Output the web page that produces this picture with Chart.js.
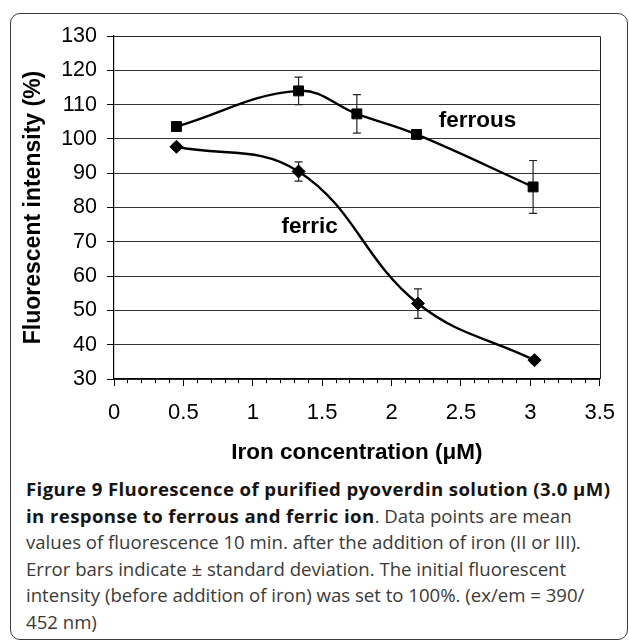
<!DOCTYPE html>
<html>
<head>
<meta charset="utf-8">
<script src="https://cdn.jsdelivr.net/npm/chart.js@4.4.0/dist/chart.umd.min.js"></script>
<style>
  html, body { margin: 0; padding: 0; background: #fff; }
  body { width: 629px; height: 640px; position: relative; overflow: hidden; }
  #frame { position: absolute; left: 10px; top: 13px; width: 618px; height: 627px; border: 1.5px solid #3c3c3c; border-radius: 10px; box-sizing: border-box; }
  #chartBox { position: absolute; left: 0; top: 0; width: 629px; height: 470px; }
  #caption { position: absolute; left: 26px; top: 476px; font-family: "Open Sans", sans-serif; font-size: 18.6px; line-height: 26.6px; color: #3a3a3a; white-space: nowrap; }
  #caption b { color: #151515; letter-spacing: 0.4px; }
</style>
</head>
<body>
<div id="frame"></div>
<div id="chartBox"><canvas id="chart" width="629" height="470"></canvas></div>
<div id="caption">
<b>Figure 9 Fluorescence of purified pyoverdin solution (3.0 μM)</b><br>
<b>in response to ferrous and ferric ion</b>. Data points are mean<br>
values of fluorescence 10 min. after the addition of iron (II or III).<br>
Error bars indicate ± standard deviation. The initial fluorescent<br>
intensity (before addition of iron) was set to 100%. (ex/em = 390/<br>
452 nm)
</div>
<script>
// Data
const ferrousConc = [0.45, 1.33, 1.75, 2.18, 3.02];
const ferrousMean = [103.6, 114.0, 107.3, 101.3, 86.0];
const ferrousSD = [1.3, 4.0, 5.6, 0.6, 7.7];

const ferricConc = [0.45, 1.33, 2.19, 3.03];
const ferricMean = [97.7, 90.5, 52.0, 35.5];
const ferricSD = [0.8, 2.8, 4.3, 0.8];

const xMin = 0, xMax = 3.5, xMinorStep = 0.1, xLabelStep = 0.5;
const yMin = 30, yMax = 130, yStep = 10;

const seriesNames = ["ferrous", "ferric"];

const FONT = "'Liberation Sans', Arial, sans-serif";

function toPoints(xs, ys) {
    return xs.map((x, i) => ({ x: x, y: ys[i] }));
}

function isLabelTick(v) {
    const r = v / xLabelStep;
    return Math.abs(r - Math.round(r)) < 1e-6;
}

// error bars drawn with the chart's own scales
const errorBars = {
    id: 'errorBars',
    beforeDatasetsDraw(chart) {
        const ctx = chart.ctx;
        const xs = chart.scales.x, ys = chart.scales.y;
        const sds = [ferrousSD, ferricSD];
        ctx.save();
        ctx.strokeStyle = '#222';
        ctx.lineWidth = 1.2;
        chart.data.datasets.forEach((ds, di) => {
            ds.data.forEach((p, i) => {
                const sd = sds[di][i];
                const px = xs.getPixelForValue(p.x);
                const top = ys.getPixelForValue(p.y + sd);
                const bot = ys.getPixelForValue(p.y - sd);
                ctx.beginPath();
                ctx.moveTo(px, top); ctx.lineTo(px, bot);
                ctx.moveTo(px - 4, top); ctx.lineTo(px + 4, top);
                ctx.moveTo(px - 4, bot); ctx.lineTo(px + 4, bot);
                ctx.stroke();
            });
        });
        ctx.restore();
    }
};

// right and top edges of the plot box, plus the series labels
const plotExtras = {
    id: 'plotExtras',
    afterDraw(chart, args, opts) {
        const ctx = chart.ctx;
        const a = chart.chartArea;
        ctx.save();
        ctx.strokeStyle = '#222';
        ctx.lineWidth = 1;
        ctx.beginPath();
        ctx.moveTo(a.left, Math.round(a.top) + 0.5);
        ctx.lineTo(Math.round(a.right) + 0.5, Math.round(a.top) + 0.5);
        ctx.lineTo(Math.round(a.right) + 0.5, a.bottom);
        ctx.stroke();

        ctx.fillStyle = '#000';
        ctx.font = 'bold 22.5px ' + FONT;
        ctx.textAlign = 'center';
        ctx.textBaseline = 'middle';
        opts.labels.forEach(l => {
            ctx.fillText(l.text, chart.scales.x.getPixelForValue(l.x), chart.scales.y.getPixelForValue(l.y));
        });
        ctx.restore();
    }
};

new Chart(document.getElementById('chart'), {
    type: 'line',
    data: {
        datasets: [
            {
                label: seriesNames[0],
                data: toPoints(ferrousConc, ferrousMean),
                borderColor: '#000',
                borderWidth: 2.4,
                backgroundColor: '#000',
                pointStyle: 'rect',
                pointRadius: 7,
                pointBackgroundColor: '#000',
                pointBorderColor: '#000',
                pointBorderWidth: 1,
                tension: 0.4
            },
            {
                label: seriesNames[1],
                data: toPoints(ferricConc, ferricMean),
                borderColor: '#000',
                borderWidth: 2.4,
                backgroundColor: '#000',
                pointStyle: 'rectRot',
                pointRadius: 6.5,
                pointBackgroundColor: '#000',
                pointBorderColor: '#000',
                pointBorderWidth: 1,
                tension: 0.4
            }
        ]
    },
    options: {
        responsive: false,
        animation: false,
        layout: { padding: { top: 36, right: 23, left: 0, bottom: 0 } },
        plugins: {
            legend: { display: false },
            tooltip: { enabled: false },
            plotExtras: {
                labels: [
                    { text: 'ferrous', x: 2.62, y: 105.2 },
                    { text: 'ferric', x: 1.41, y: 74.3 }
                ]
            }
        },
        scales: {
            x: {
                type: 'linear',
                min: xMin,
                max: xMax,
                afterFit(scale) { scale.height = 91; },
                border: { display: true, color: '#000', width: 1.2 },
                grid: {
                    drawOnChartArea: false,
                    drawTicks: true,
                    tickLength: 7,
                    tickColor: '#000',
                    tickWidth: 1,
                    tickBorderDash: (c) => (c.tick && isLabelTick(c.tick.value)) ? [] : [4, 20]
                },
                ticks: {
                    stepSize: xMinorStep,
                    maxTicksLimit: 100,
                    autoSkip: false,
                    maxRotation: 0,
                    padding: 14,
                    color: '#000',
                    font: { family: FONT, size: 22 },
                    callback: (v) => isLabelTick(v) ? String(Math.round(v * 10) / 10) : ''
                },
                title: {
                    display: true,
                    text: 'Iron concentration (μM)',
                    color: '#000',
                    font: { family: FONT, size: 22.5, weight: 'bold' },
                    padding: { top: 0, bottom: 3.5 }
                }
            },
            y: {
                min: yMin,
                max: yMax,
                afterFit(scale) { scale.width = 114; },
                border: { display: true, color: '#000', width: 1.2 },
                grid: {
                    color: '#333',
                    lineWidth: 1,
                    tickLength: 7,
                    tickColor: '#000'
                },
                ticks: {
                    stepSize: yStep,
                    padding: 10,
                    color: '#000',
                    font: { family: FONT, size: 21.5 }
                },
                title: {
                    display: true,
                    text: 'Fluorescent intensity (%)',
                    color: '#000',
                    font: { family: FONT, size: 23, weight: 'bold' },
                    padding: { top: 20, bottom: 0 }
                }
            }
        }
    },
    plugins: [errorBars, plotExtras]
});
</script>
</body>
</html>
